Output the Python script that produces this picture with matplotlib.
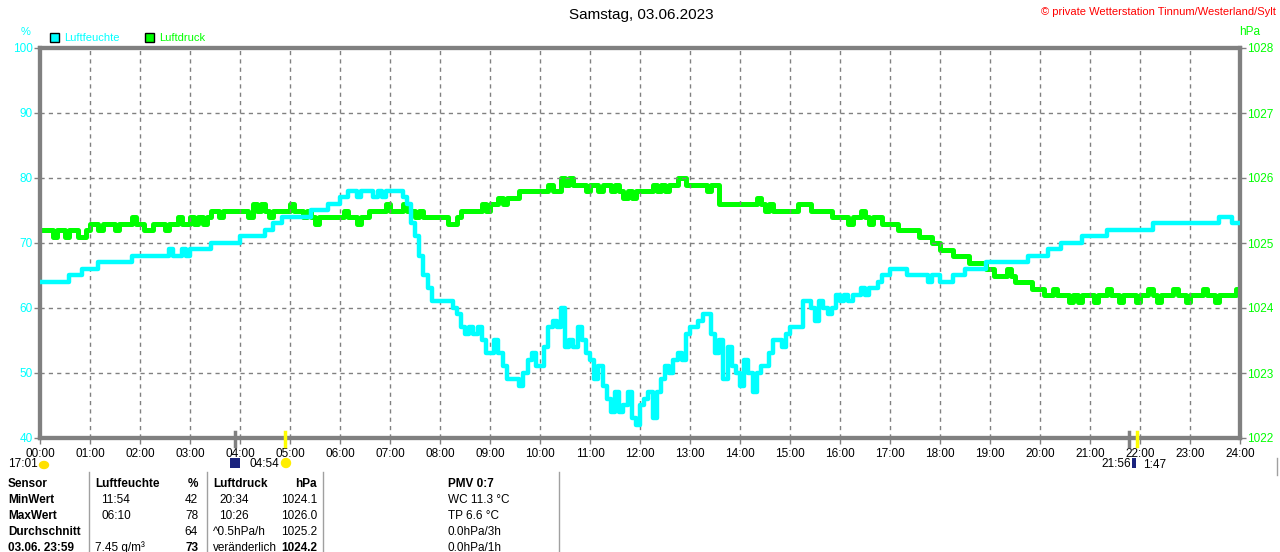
import numpy as np
import matplotlib
matplotlib.use('Agg')
import matplotlib.pyplot as plt
from matplotlib.patches import Rectangle, Ellipse, Wedge

plt.rcParams['font.family'] = ['Liberation Sans', 'DejaVu Sans']

W, H = 1280, 552

# Luftfeuchte (%), 5-Minuten-Werte, eine Zeile pro Stunde
humidity = [
    64, 64, 64, 64, 64, 64, 64, 65, 65, 65, 66, 66,
    66, 66, 67, 67, 67, 67, 67, 67, 67, 67, 68, 68,
    68, 68, 68, 68, 68, 68, 68, 69, 68, 68, 69, 68,
    69, 69, 69, 69, 69, 70, 70, 70, 70, 70, 70, 70,
    71, 71, 71, 71, 71, 71, 72, 72, 73, 73, 74, 74,
    74, 74, 74, 74, 74, 75, 75, 75, 75, 76, 76, 76,
    77, 77, 78, 78, 77, 78, 78, 78, 77, 78, 77, 78,
    78, 78, 78, 77, 76, 73, 71, 68, 65, 63, 61, 61,
    61, 61, 61, 60, 59, 57, 56, 57, 56, 57, 55, 53,
    53, 55, 53, 51, 49, 49, 49, 48, 50, 52, 53, 51,
    51, 54, 57, 58, 57, 60, 54, 55, 54, 57, 55, 53,
    52, 49, 51, 48, 46, 44, 47, 44, 45, 47, 43, 42,
    45, 46, 47, 43, 47, 49, 51, 50, 52, 53, 52, 56,
    57, 57, 58, 59, 59, 56, 53, 55, 49, 54, 51, 50,
    48, 52, 50, 47, 50, 51, 51, 53, 55, 55, 54, 56,
    57, 57, 57, 61, 61, 60, 58, 61, 60, 59, 60, 62,
    61, 62, 61, 62, 62, 63, 62, 63, 63, 64, 65, 65,
    66, 66, 66, 66, 65, 65, 65, 65, 65, 64, 65, 65,
    64, 64, 64, 65, 65, 65, 66, 66, 66, 66, 66, 67,
    67, 67, 67, 67, 67, 67, 67, 67, 67, 68, 68, 68,
    68, 68, 69, 69, 69, 70, 70, 70, 70, 70, 71, 71,
    71, 71, 71, 71, 72, 72, 72, 72, 72, 72, 72, 72,
    72, 72, 72, 73, 73, 73, 73, 73, 73, 73, 73, 73,
    73, 73, 73, 73, 73, 73, 73, 74, 74, 74, 73, 73,
    73,
]

# Luftdruck (hPa), 5-Minuten-Werte
pressure = [
    1025.2, 1025.2, 1025.2, 1025.1, 1025.2, 1025.2, 1025.1, 1025.2, 1025.2, 1025.1, 1025.1, 1025.2,
    1025.3, 1025.3, 1025.2, 1025.3, 1025.3, 1025.3, 1025.2, 1025.3, 1025.3, 1025.3, 1025.4, 1025.3,
    1025.3, 1025.2, 1025.2, 1025.3, 1025.3, 1025.3, 1025.2, 1025.3, 1025.3, 1025.4, 1025.3, 1025.3,
    1025.4, 1025.3, 1025.4, 1025.3, 1025.4, 1025.5, 1025.5, 1025.4, 1025.5, 1025.5, 1025.5, 1025.5,
    1025.5, 1025.5, 1025.4, 1025.6, 1025.5, 1025.6, 1025.5, 1025.4, 1025.5, 1025.5, 1025.5, 1025.5,
    1025.6, 1025.5, 1025.5, 1025.4, 1025.5, 1025.4, 1025.3, 1025.4, 1025.4, 1025.4, 1025.4, 1025.4,
    1025.4, 1025.5, 1025.4, 1025.4, 1025.3, 1025.4, 1025.4, 1025.5, 1025.5, 1025.5, 1025.5, 1025.6,
    1025.5, 1025.5, 1025.5, 1025.6, 1025.5, 1025.5, 1025.4, 1025.5, 1025.4, 1025.4, 1025.4, 1025.4,
    1025.4, 1025.4, 1025.3, 1025.3, 1025.4, 1025.5, 1025.5, 1025.5, 1025.5, 1025.5, 1025.6, 1025.5,
    1025.6, 1025.6, 1025.7, 1025.6, 1025.7, 1025.7, 1025.7, 1025.8, 1025.8, 1025.8, 1025.8, 1025.8,
    1025.8, 1025.8, 1025.9, 1025.8, 1025.8, 1026.0, 1025.9, 1026.0, 1025.9, 1025.9, 1025.9, 1025.8,
    1025.9, 1025.9, 1025.8, 1025.9, 1025.9, 1025.8, 1025.9, 1025.8, 1025.7, 1025.8, 1025.7, 1025.8,
    1025.8, 1025.8, 1025.8, 1025.9, 1025.8, 1025.9, 1025.8, 1025.9, 1025.9, 1026.0, 1026.0, 1025.9,
    1025.9, 1025.9, 1025.9, 1025.9, 1025.8, 1025.9, 1025.9, 1025.6, 1025.6, 1025.6, 1025.6, 1025.6,
    1025.6, 1025.6, 1025.6, 1025.6, 1025.7, 1025.6, 1025.5, 1025.6, 1025.5, 1025.5, 1025.5, 1025.5,
    1025.5, 1025.5, 1025.6, 1025.6, 1025.6, 1025.5, 1025.5, 1025.5, 1025.5, 1025.5, 1025.4, 1025.4,
    1025.4, 1025.4, 1025.3, 1025.4, 1025.4, 1025.5, 1025.4, 1025.3, 1025.4, 1025.4, 1025.3, 1025.3,
    1025.3, 1025.3, 1025.2, 1025.2, 1025.2, 1025.2, 1025.2, 1025.1, 1025.1, 1025.1, 1025.0, 1025.0,
    1024.9, 1024.9, 1024.9, 1024.8, 1024.8, 1024.8, 1024.8, 1024.7, 1024.7, 1024.7, 1024.7, 1024.6,
    1024.6, 1024.5, 1024.5, 1024.5, 1024.6, 1024.5, 1024.4, 1024.4, 1024.4, 1024.4, 1024.3, 1024.3,
    1024.3, 1024.2, 1024.2, 1024.3, 1024.2, 1024.2, 1024.2, 1024.1, 1024.2, 1024.1, 1024.2, 1024.2,
    1024.2, 1024.1, 1024.2, 1024.2, 1024.3, 1024.2, 1024.2, 1024.1, 1024.2, 1024.2, 1024.2, 1024.1,
    1024.2, 1024.2, 1024.3, 1024.2, 1024.1, 1024.2, 1024.2, 1024.2, 1024.3, 1024.2, 1024.2, 1024.1,
    1024.2, 1024.2, 1024.2, 1024.3, 1024.2, 1024.2, 1024.1, 1024.2, 1024.2, 1024.2, 1024.2, 1024.3,
    1024.2,
]

hours = np.arange(len(humidity)) * 5 / 60.0
hour_labels = ['%02d:00' % h for h in range(25)]
hum_ticks = [40, 50, 60, 70, 80, 90, 100]
press_ticks = [1022, 1023, 1024, 1025, 1026, 1027, 1028]

table_rows = [
    ['Sensor', 'Luftfeuchte', '', '%', 'Luftdruck', '', 'hPa', 'PMV 0:7'],
    ['MinWert', '', '11:54', '42', '', '20:34', '1024.1', 'WC 11.3 °C'],
    ['MaxWert', '', '06:10', '78', '', '10:26', '1026.0', 'TP 6.6 °C'],
    ['Durchschnitt', '', '', '64', '^0.5hPa/h', '', '1025.2', '0.0hPa/3h'],
    ['03.06. 23:59', '7.45 g/m³', '', '73', 'veränderlich', '', '1024.2', '0.0hPa/1h'],
]

CYAN = '#00ffff'
GREEN = '#00ff00'
GREY = '#808080'


def fx(x):
    return x / W


def fy(y):
    return 1 - y / H


fig = plt.figure(figsize=(W / 100, H / 100), dpi=100)
fig.patch.set_facecolor('white')

ax = fig.add_axes([fx(40), fy(438), fx(1200), 390 / H])
ax2 = ax.twinx()

ax2.plot(hours, pressure, color=GREEN, lw=3.6, drawstyle='steps-post', zorder=2)
ax.plot(hours, humidity, color=CYAN, lw=3.2, drawstyle='steps-post', zorder=3)
ax.set_zorder(ax2.get_zorder() + 1)
ax.patch.set_visible(False)

ax.set_xlim(0, 24)
ax.set_ylim(40, 100)
ax2.set_ylim(1022, 1028)
ax.set_xticks(range(25))
ax.set_xticklabels(hour_labels)
ax.set_yticks(hum_ticks)
ax2.set_yticks(press_ticks)

for h in range(1, 24):
    ax.axvline(h, color=GREY, lw=1, ls=(0, (3, 3)), zorder=1)
for v in hum_ticks[1:-1]:
    ax.axhline(v, color=GREY, lw=1, ls=(0, (3, 3)), zorder=1)

for a in (ax, ax2):
    for s in a.spines.values():
        s.set_color(GREY)
        s.set_linewidth(3)

ax.tick_params(axis='x', colors=GREY, labelcolor='black', labelsize=8.5, length=4, width=1, pad=3)
ax.tick_params(axis='y', colors=GREY, labelcolor=CYAN, labelsize=8.5, length=4, width=1, pad=1)
ax2.tick_params(axis='y', colors=GREY, labelcolor=GREEN, labelsize=8.5, length=4, width=1, pad=1)

# Kopf
fig.text(fx(641), fy(15), 'Samstag, 03.06.2023', ha='center', va='center', fontsize=11)
fig.text(fx(1276), fy(12), '© private Wetterstation Tinnum/Westerland/Sylt',
         ha='right', va='center', fontsize=8, color='red')
fig.text(fx(26), fy(32), '%', ha='center', va='center', fontsize=8, color=CYAN)
fig.text(fx(1250), fy(32), 'hPa', ha='center', va='center', fontsize=8.5, color=GREEN)

fig.patches.append(Rectangle((fx(50), fy(42)), fx(9), 9 / H, transform=fig.transFigure,
                             facecolor=CYAN, edgecolor='black', lw=1))
fig.text(fx(64), fy(38), 'Luftfeuchte', ha='left', va='center', fontsize=8, color=CYAN)
fig.patches.append(Rectangle((fx(145), fy(42)), fx(9), 9 / H, transform=fig.transFigure,
                             facecolor=GREEN, edgecolor='black', lw=1))
fig.text(fx(159), fy(38), 'Luftdruck', ha='left', va='center', fontsize=8, color=GREEN)

# Sonne/Mond Markierungen
for x, c in [(235, GREY), (285, 'yellow'), (1129, GREY), (1137, 'yellow')]:
    fig.lines.append(plt.Line2D([fx(x), fx(x)], [fy(432), fy(446)], transform=fig.transFigure,
                                color=c, lw=2.5))

fig.text(fx(8), fy(464), '17:01', ha='left', va='center', fontsize=8.5)
fig.patches.append(Ellipse((fx(44), fy(465)), fx(9), 7 / H, transform=fig.transFigure,
                           color='#ffe000'))
fig.patches.append(Rectangle((fx(230), fy(468)), fx(10), 10 / H, transform=fig.transFigure,
                             facecolor='#1a237e', edgecolor='none'))
fig.text(fx(250), fy(464), '04:54', ha='left', va='center', fontsize=8.5)
fig.patches.append(Ellipse((fx(286), fy(463)), fx(9), 9 / H, transform=fig.transFigure,
                           color='#ffee00'))
fig.text(fx(1131), fy(464), '21:56', ha='right', va='center', fontsize=8.5)
fig.patches.append(Rectangle((fx(1132), fy(468)), fx(4), 10 / H, transform=fig.transFigure,
                             facecolor='#1a237e', edgecolor='none'))
fig.text(fx(1143), fy(465), '1:47', ha='left', va='center', fontsize=8.5)

# Tabelle
for x in [89, 207, 323, 559]:
    fig.lines.append(plt.Line2D([fx(x), fx(x)], [fy(472), fy(552)], transform=fig.transFigure,
                                color='#a0a0a0', lw=1))
fig.lines.append(plt.Line2D([fx(1277), fx(1277)], [fy(458), fy(475)], transform=fig.transFigure,
                            color='#a0a0a0', lw=1))

col_x = [8, 95, 101, 198, 213, 219, 317, 448]
col_ha = ['left', 'left', 'left', 'right', 'left', 'left', 'right', 'left']
for r, row in enumerate(table_rows):
    y = 484 + 16 * r
    for c, txt in enumerate(row):
        if not txt:
            continue
        bold = c == 0 or r == 0 or (r == 4 and c in (3, 6))
        fig.text(fx(col_x[c]), fy(y), txt, ha=col_ha[c], va='center', fontsize=8.5,
                 fontweight='bold' if bold else 'normal')

fig.savefig('out.png', dpi=100)
